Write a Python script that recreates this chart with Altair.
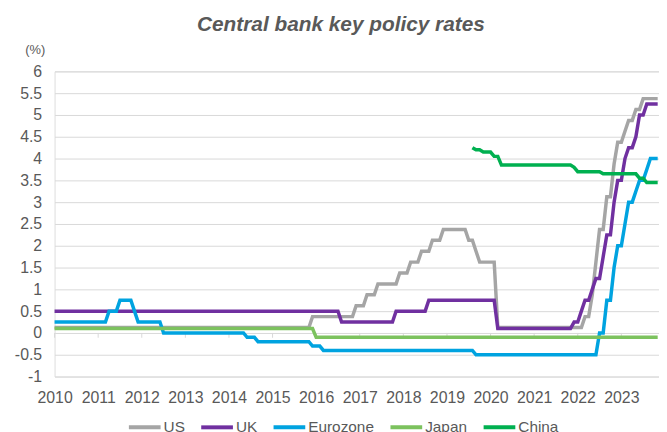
import altair as alt
import pandas as pd

SERIES = ["US", "UK", "Eurozone", "Japan", "China"]
COLORS = ["#A5A5A5", "#7030A0", "#00A3E0", "#7CC25E", "#00B050"]

YEARS = list(range(2010, 2024))
Y_TICKS = [-1, -0.5, 0, 0.5, 1, 1.5, 2, 2.5, 3, 3.5, 4, 4.5, 5, 5.5, 6]
END_MONTH = "2023-11"

# Policy-rate change points: month in which the new level first shows, and the level
us_months = ["2010-01", "2015-12", "2016-12", "2017-03", "2017-06", "2017-12", "2018-03",
             "2018-06", "2018-09", "2018-12", "2019-07", "2019-09", "2019-10", "2020-03",
             "2022-03", "2022-05", "2022-06", "2022-07", "2022-09", "2022-11", "2022-12",
             "2023-02", "2023-03", "2023-05", "2023-07"]
us_values = [0.125, 0.375, 0.625, 0.875, 1.125, 1.375, 1.625,
             1.875, 2.125, 2.375, 2.125, 1.875, 1.625, 0.125,
             0.375, 0.875, 1.625, 2.375, 3.125, 3.875, 4.375,
             4.625, 4.875, 5.125, 5.375]

uk_months = ["2010-01", "2016-08", "2017-11", "2018-08", "2020-03", "2021-12", "2022-02",
             "2022-03", "2022-05", "2022-06", "2022-08", "2022-09", "2022-11", "2022-12",
             "2023-02", "2023-03", "2023-05", "2023-06", "2023-08"]
uk_values = [0.5, 0.25, 0.5, 0.75, 0.1, 0.25, 0.5,
             0.75, 1.0, 1.25, 1.75, 2.25, 3.0, 3.5,
             4.0, 4.25, 4.5, 5.0, 5.25]

ez_months = ["2010-01", "2011-04", "2011-07", "2011-11", "2011-12", "2012-07", "2014-06",
             "2014-09", "2015-12", "2016-03", "2019-09", "2022-07", "2022-09", "2022-11",
             "2022-12", "2023-02", "2023-03", "2023-05", "2023-06", "2023-08", "2023-09"]
ez_values = [0.25, 0.5, 0.75, 0.5, 0.25, 0.0, -0.1,
             -0.2, -0.3, -0.4, -0.5, 0.0, 0.75, 1.5,
             2.0, 2.5, 3.0, 3.25, 3.5, 3.75, 4.0]

jp_months = ["2010-01", "2016-01"]
jp_values = [0.1, -0.1]

cn_months = ["2019-08", "2019-09", "2019-11", "2020-02", "2020-04", "2021-12", "2022-01",
             "2022-08", "2023-06", "2023-08"]
cn_values = [4.25, 4.20, 4.15, 4.05, 3.85, 3.80, 3.70,
             3.65, 3.55, 3.45]

RAW = {
    "US": (us_months, us_values),
    "UK": (uk_months, uk_values),
    "Eurozone": (ez_months, ez_values),
    "Japan": (jp_months, jp_values),
    "China": (cn_months, cn_values),
}


def to_year(m):
    y, mo = m.split("-")
    return int(y) + (int(mo) - 1) / 12


rows = []
for name, (months, values) in RAW.items():
    for i, (m, v) in enumerate(zip(months, values)):
        t = to_year(m)
        if i > 0:
            rows.append({"series": name, "t": t - 1 / 12, "v": values[i - 1]})
        rows.append({"series": name, "t": t, "v": v})
    rows.append({"series": name, "t": to_year(END_MONTH), "v": values[-1]})
df = pd.DataFrame(rows)

ticks_df = pd.DataFrame({"t": YEARS, "v": [0] * len(YEARS), "v2": [-0.11] * len(YEARS)})

FONT = "Liberation Sans"
TXT = "#595959"
X_MAX = 2010 + 610 / 44

x_enc = alt.X(
    "t:Q",
    scale=alt.Scale(domain=[2010, X_MAX], nice=False, zero=False),
    axis=alt.Axis(values=YEARS, format="d", title=None, grid=False, domain=False,
                  ticks=False, labelFontSize=16, labelColor=TXT, labelFont=FONT,
                  labelPadding=13, labelFlush=False, labelOverlap=False),
)
y_enc = alt.Y(
    "v:Q",
    scale=alt.Scale(domain=[-1, 6], nice=False, zero=False),
    axis=alt.Axis(values=Y_TICKS, labelExpr="'' + datum.value", title="(%)",
                  titleAngle=0, titleX=-20, titleY=-18, titleAlign="center",
                  titleBaseline="alphabetic", titleFontSize=13, titleFontWeight="normal",
                  titleColor=TXT, titleFont=FONT, grid=True, gridColor="#D9D9D9",
                  gridWidth=1, domain=False, ticks=False, labelPadding=13,
                  labelFontSize=16, labelColor=TXT, labelFont=FONT, labelOverlap=False),
)
color_enc = alt.Color(
    "series:N",
    scale=alt.Scale(domain=SERIES, range=COLORS),
    sort=SERIES,
    legend=alt.Legend(title=None, orient="none", legendX=73, legendY=341,
                      direction="horizontal", symbolType="stroke", symbolSize=1024,
                      symbolStrokeWidth=4, labelFontSize=15.5, labelColor=TXT,
                      labelFont=FONT, labelOffset=1, columnPadding=8),
)

tick_layer = alt.Chart(ticks_df).mark_rule(color="#D9D9D9", strokeWidth=1).encode(
    x=x_enc, y=y_enc, y2="v2:Q"
)

line_layers = [
    alt.Chart(df).transform_filter(alt.datum.series == s)
    .mark_line(strokeWidth=3.5)
    .encode(x=x_enc, y=y_enc, color=color_enc)
    for s in SERIES
]

chart = alt.layer(tick_layer, *line_layers).properties(
    width=610,
    height=308,
    autosize=alt.AutoSizeParams(type="none"),
    padding={"left": 47, "top": 62, "right": 0, "bottom": 54},
    title=alt.TitleParams(
        "Central bank key policy rates", font=FONT, fontSize=21, fontWeight="bold",
        fontStyle="italic", color=TXT, anchor="middle", frame="group", dx=-16,
        offset=-8, baseline="alphabetic",
    ),
).configure_view(stroke=None).configure(background="white")

chart.save("out.html", embed_options={"renderer": "svg", "actions": False})
